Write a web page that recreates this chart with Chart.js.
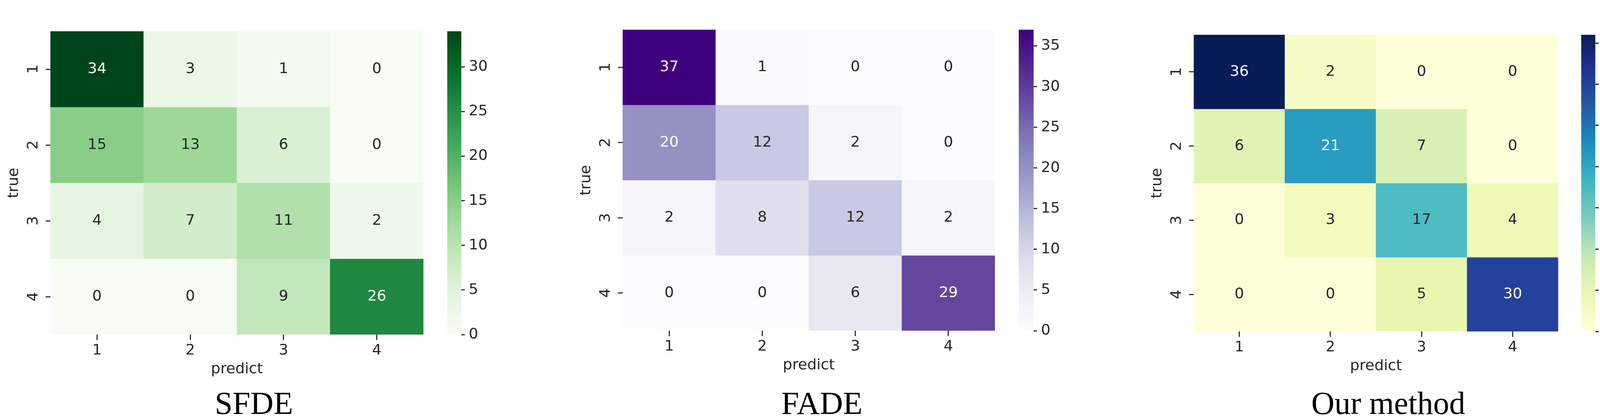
<!DOCTYPE html>
<html>
<head>
<meta charset="utf-8">
<script src="https://cdn.jsdelivr.net/npm/chart.js@4"></script>
<style>
  body { margin: 0; width: 4173px; height: 1072px; background: #fff; position: relative; overflow: hidden; }
  .box { position: absolute; top: 0; }
  .title { position: absolute; top: 985px; font-family: "Liberation Serif", "DejaVu Serif", serif; font-size: 82px; color: #000; transform: translateX(-50%); white-space: nowrap; }
</style>
</head>
<body>
<div class="box" id="p1"><canvas id="hm1"></canvas></div>
<div class="box" id="c1"><canvas id="cb1"></canvas></div>
<div class="box" id="p2"><canvas id="hm2"></canvas></div>
<div class="box" id="c2"><canvas id="cb2"></canvas></div>
<div class="box" id="p3"><canvas id="hm3"></canvas></div>
<div class="box" id="c3"><canvas id="cb3"></canvas></div>
<div class="title" style="left:650px">SFDE</div>
<div class="title" style="left:2104px">FADE</div>
<div class="title" style="left:3554px">Our method</div>
<script>
/* data */
const predLabels = ["1", "2", "3", "4"];
const trueLabels = ["1", "2", "3", "4"];
const sfde = [[34, 3, 1, 0], [15, 13, 6, 0], [4, 7, 11, 2], [0, 0, 9, 26]];
const fade = [[37, 1, 0, 0], [20, 12, 2, 0], [2, 8, 12, 2], [0, 0, 6, 29]];
const ours = [[36, 2, 0, 0], [6, 21, 7, 0], [0, 3, 17, 4], [0, 0, 5, 30]];
const sfdeMax = 34, fadeMax = 37, oursMax = 36;
const cbTicks = [0, 5, 10, 15, 20, 25, 30, 35];

/* colormaps */
const GREENS = ["#f7fcf5", "#e5f5e0", "#c7e9c0", "#a1d99b", "#74c476", "#41ab5d", "#238b45", "#006d2c", "#00441b"];
const PURPLES = ["#fcfbfd", "#efedf5", "#dadaeb", "#bcbddc", "#9e9ac8", "#807dba", "#6a51a3", "#54278f", "#3f007d"];
const YLGNBU = ["#ffffd9", "#edf8b1", "#c7e9b4", "#7fcdbb", "#41b6c4", "#1d91c0", "#225ea8", "#253494", "#081d58"];

const hex = (h) => [1, 3, 5].map(i => parseInt(h.substr(i, 2), 16));
function cmap(stops, t) {
  t = Math.max(0, Math.min(1, t));
  const p = t * (stops.length - 1), i = Math.min(stops.length - 2, Math.floor(p)), f = p - i;
  const a = hex(stops[i]), b = hex(stops[i + 1]);
  return `rgb(${a.map((v, k) => Math.round(v + (b[k] - v) * f)).join(",")})`;
}

const FONT = "DejaVu Sans";
const TXT = "#262626";

/* heatmap via floating bars */
function heatmap(id, boxId, mat, vmax, stops, L, R, T, B) {
  const W = (R - L) + 116 + 10, H = 1000;
  const box = document.getElementById(boxId);
  box.style.left = (L - 116) + "px";
  box.style.width = W + "px"; box.style.height = H + "px";

  const cellText = {
    id: "cellText",
    afterDatasetsDraw(chart) {
      const { ctx, scales: { x, y }, chartArea } = chart;
      ctx.save();
      ctx.font = `38px "${FONT}"`;
      ctx.textAlign = "center"; ctx.textBaseline = "middle";
      mat.forEach((row, r) => row.forEach((v, c) => {
        ctx.fillStyle = v / vmax > 0.5 ? "#ffffff" : TXT;
        ctx.fillText(String(v), x.getPixelForValue(c), y.getPixelForValue(r + 0.5));
      }));
      // rotated y tick labels
      ctx.fillStyle = TXT;
      trueLabels.forEach((lab, r) => {
        ctx.save();
        ctx.translate(chartArea.left - 43, y.getPixelForValue(r + 0.5));
        ctx.rotate(-Math.PI / 2);
        ctx.fillText(lab, 0, 0);
        ctx.restore();
      });
      ctx.restore();
    }
  };

  new Chart(document.getElementById(id), {
    type: "bar",
    data: {
      labels: predLabels,
      datasets: mat.map((row, r) => ({
        data: row.map(() => [r, r + 1]),
        backgroundColor: row.map(v => cmap(stops, v / vmax)),
        barPercentage: 1, categoryPercentage: 1, grouped: false, borderWidth: 0, borderSkipped: false
      }))
    },
    options: {
      responsive: true, maintainAspectRatio: false, animation: false,
      layout: { padding: { top: T, right: 10, bottom: H - (B + 112), left: 0 } },
      plugins: { legend: { display: false }, tooltip: { enabled: false } },
      scales: {
        x: {
          grid: { offset: false, drawOnChartArea: false, drawTicks: true, tickLength: 14, color: "#333", lineWidth: 3 },
          border: { display: false },
          ticks: { color: TXT, font: { family: FONT, size: 38 }, padding: 4 },
          title: { display: true, text: "predict", color: TXT, font: { family: FONT, size: 38 }, padding: 0 },
          afterFit: (s) => { s.height = 112; }
        },
        y: {
          min: 0, max: 4, reverse: true,
          afterBuildTicks: (s) => { s.ticks = trueLabels.map((_, i) => ({ value: i + 0.5 })); },
          grid: { drawOnChartArea: false, drawTicks: true, tickLength: 12, color: "#333", lineWidth: 3 },
          border: { display: false },
          ticks: { display: false },
          title: { display: true, text: "true", color: TXT, font: { family: FONT, size: 38 }, padding: 0 },
          afterFit: (s) => { s.width = 116; }
        }
      }
    },
    plugins: [cellText]
  });
}

/* colorbar */
function colorbar(id, boxId, vmax, stops, L, R, T, B) {
  const W = (R - L) + 100, H = 1000;
  const box = document.getElementById(boxId);
  box.style.left = L + "px";
  box.style.width = W + "px"; box.style.height = H + "px";
  new Chart(document.getElementById(id), {
    type: "bar",
    data: {
      labels: [""],
      datasets: [{
        data: [[0, vmax]],
        barPercentage: 1, categoryPercentage: 1, borderWidth: 0, borderSkipped: false,
        backgroundColor: (c) => {
          const a = c.chart.chartArea;
          if (!a) return stops[0];
          const g = c.chart.ctx.createLinearGradient(0, a.bottom, 0, a.top);
          for (let i = 0; i <= 20; i++) g.addColorStop(i / 20, cmap(stops, i / 20));
          return g;
        }
      }]
    },
    options: {
      responsive: true, maintainAspectRatio: false, animation: false,
      layout: { padding: { top: T, bottom: H - B, left: 0, right: 0 } },
      plugins: { legend: { display: false }, tooltip: { enabled: false } },
      scales: {
        x: { display: false },
        y: {
          position: "right", min: 0, max: vmax,
          afterBuildTicks: (s) => { s.ticks = cbTicks.filter(v => v <= vmax).map(v => ({ value: v })); },
          grid: { drawOnChartArea: false, drawTicks: true, tickLength: 9, color: "#333", lineWidth: 3 },
          border: { display: false },
          ticks: { color: TXT, font: { family: FONT, size: 38 }, padding: 10 },
          afterFit: (s) => { s.width = 100; }
        }
      }
    }
  });
}

heatmap("hm1", "p1", sfde, sfdeMax, GREENS, 129, 1084, 80, 856);
colorbar("cb1", "c1", sfdeMax, GREENS, 1145, 1181, 80, 856);
heatmap("hm2", "p2", fade, fadeMax, PURPLES, 1594, 2547, 76, 846);
colorbar("cb2", "c2", fadeMax, PURPLES, 2608, 2646, 76, 846);
heatmap("hm3", "p3", ours, oursMax, YLGNBU, 3056, 3989, 89, 848);
colorbar("cb3", "c3", oursMax, YLGNBU, 4048, 4084, 89, 848);
</script>
</body>
</html>
